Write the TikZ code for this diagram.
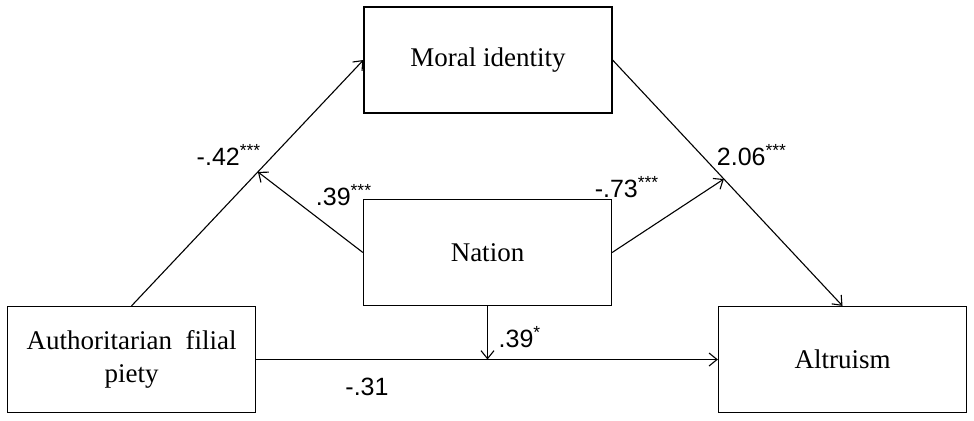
\documentclass[tikz,border=0pt]{standalone}
\usepackage{fontspec}
\setmainfont{Liberation Serif}
\newfontfamily\labelfont{Liberation Sans}
\usetikzlibrary{calc,arrows.meta}
\tikzset{
    varbox/.style={draw, line width=0.6pt, minimum width=124pt, minimum height=53pt,
        align=center, font=\fontsize{13.5}{16.5}\selectfont},
    coef/.style={font=\labelfont\fontsize{12.5}{14}\selectfont, inner sep=0pt},
    link/.style={line width=0.55pt, -{Straight Barb[length=4pt,width=6.5pt]}}
}
\begin{document}
\begin{tikzpicture}[x=0.5pt, y=-0.5pt]
                    \useasboundingbox (0,0) rectangle (974,420);
                    \node[varbox] (moral) at (488,60) {Moral identity};
                    \node[varbox] (nation) at (487.5,252.5) {Nation};
                    \node[varbox] (afp) at (131.5,359.5) {Authoritarian\enspace filial\\piety};
                    \node[varbox] (altru) at (842.5,359.5) {Altruism};
                    % paths
                    \coordinate (amid) at ($(afp.north)!0.545!(moral.west)$);
                    \coordinate (bmid) at ($(moral.east)!0.484!(altru.north)$);
                    \coordinate (cmid) at (nation.south |- afp.east);
                    \draw[link] (afp.north) -- (moral.west);
                    \draw[link] (moral.east) -- (altru.north);
                    \draw[link] (afp.east) -- (altru.west);
                    \draw[link] (nation.west) -- (amid);
                    \draw[link] (nation.east) -- (bmid);
                    \draw[link] (nation.south) -- (cmid);
                    % coefficients
                    \node[coef] (ca) at (229,155) {-.42\textsuperscript{***}};
                    \node[coef] (cb) at (344,195) {.39\textsuperscript{***}};
                    \node[coef] (cc) at (627,187) {-.73\textsuperscript{***}};
                    \node[coef] (cd) at (752,155) {2.06\textsuperscript{***}};
                    \node[coef] (ce) at (520,337) {.39\textsuperscript{*}};
                    \node[coef] (cf) at (367,387) {-.31};
                \end{tikzpicture}
\end{document}
